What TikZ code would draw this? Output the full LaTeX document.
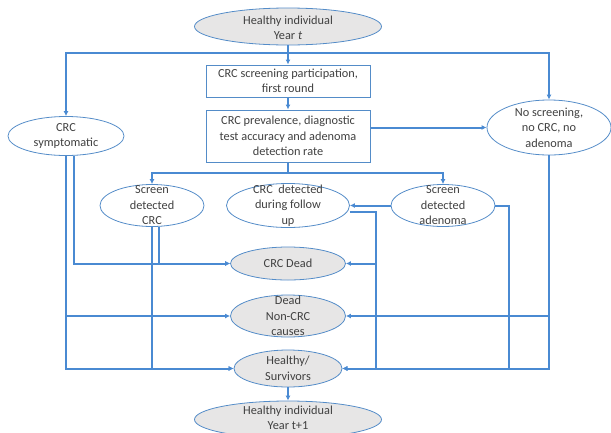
\documentclass[tikz,border=0pt]{standalone}
\usepackage{fontspec}
\setmainfont{Carlito}
\usetikzlibrary{shapes.geometric, arrows.meta, positioning}

\definecolor{lineblue}{RGB}{74,138,210}
\definecolor{edgeblue}{RGB}{84,140,200}
\definecolor{stategrey}{RGB}{231,230,230}
\definecolor{txtgrey}{RGB}{64,64,64}

\begin{document}
\begin{tikzpicture}[
                x=1pt, y=-1pt,
                every node/.style={font=\fontsize{12.3}{15.5}\selectfont, text=txtgrey},
                state/.style={ellipse,draw=edgeblue,line width=0.8pt,inner sep=0pt},
                grey/.style={state,fill=stategrey},
                box/.style={rectangle,draw=edgeblue,line width=1pt,minimum width=164pt,align=center,inner sep=0pt},
                txt/.style={align=center,inner sep=0pt},
                flow/.style={draw=lineblue,line width=2pt,-{Latex[length=5pt,width=5pt]}},
            ]
            \useasboundingbox (0,0) rectangle (611,432);

            % Define nodes
            \node[grey,minimum width=187pt,minimum height=37pt,label={[txt,yshift=-1.5pt]center:{Healthy individual\\Year \textit{t}}}] (top) at (288,26.5) {};
            \node[box,minimum height=32pt] (part) at (288,81) {CRC screening participation,\\first round};
            \node[box,minimum height=52pt] (prev) at (288,136) {CRC prevalence, diagnostic\\test accuracy and adenoma\\detection rate};
            \node[state,minimum width=116pt,minimum height=39pt,label={[txt]center:{CRC\\symptomatic}}] (symp) at (66,136) {};
            \node[state,minimum width=124pt,minimum height=55pt,label={[txt]center:{No screening,\\no CRC, no\\adenoma}}] (nos) at (549,127.5) {};
            \node[state,minimum width=104pt,minimum height=42pt,label={[txt]center:{Screen\\detected\\CRC}}] (scrc) at (152,205.5) {};
            \node[state,minimum width=123pt,minimum height=44pt,label={[txt]center:{CRC\ \ detected\\during follow\\up}}] (fu) at (288,205.5) {};
            \node[state,minimum width=104pt,minimum height=42pt,label={[txt]center:{Screen\\detected\\adenoma}}] (aden) at (443,205.5) {};
            \node[grey,minimum width=115pt,minimum height=33pt,label={[txt]center:{CRC Dead}}] (dead) at (288,263.5) {};
            \node[grey,minimum width=115pt,minimum height=42pt,label={[txt]center:{Dead\\Non-CRC\\causes}}] (deadnon) at (288,316) {};
            \node[grey,minimum width=108pt,minimum height=37pt,label={[txt]center:{Healthy/\\Survivors}}] (surv) at (288,368.5) {};
            \node[grey,minimum width=187pt,minimum height=37pt,label={[txt,yshift=1.5pt]center:{Healthy individual\\Year t+1}}] (next) at (288,419.5) {};

            % Bus points
            \coordinate (split1) at (288,53);
            \coordinate (split2) at (288,173);
            \coordinate (busfu) at (376,211);
            \coordinate (busad) at (509,205);

            % Draw connections
            \draw[flow] (top) -- (part);
            \draw[flow] (top.south) -- (split1) -| (symp);
            \draw[flow] (split1) -| (nos);
            \draw[flow] (part) -- (prev);
            \draw[flow] (prev.east |- nos) -- (nos);
            \draw[flow] (prev.south) -- (split2) -| (scrc);
            \draw[flow] (split2) -| (aden);
            \draw[flow] (aden) -- (fu);

            % Draw outcomes
            \draw[flow] ([xshift=8pt]symp.south) |- (dead);
            \draw[flow] (symp.south) |- (deadnon);
            \draw[flow] (symp.south) |- (surv);
            \draw[flow] ([xshift=7pt]scrc.south) |- (dead);
            \draw[flow] (scrc.south) |- (surv);
            \draw[flow] ([yshift=-6pt]fu.east) -| (busfu |- dead) -- (dead);
            \draw[flow] ([yshift=-6pt]fu.east) -| (busfu |- surv) -- (surv);
            \draw[flow] (aden.east) -| (busad |- surv) -- (surv);
            \draw[flow] (nos.south) |- (deadnon);
            \draw[flow] (nos.south) |- (surv);
            \draw[flow] (surv) -- (next);

            \end{tikzpicture}
\end{document}
